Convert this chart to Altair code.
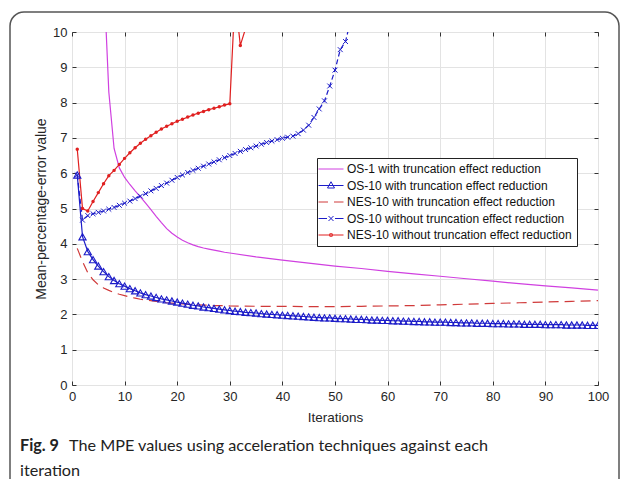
import altair as alt
import pandas as pd

SERIES = [
    "OS-1 with truncation effect reduction",
    "OS-10 with truncation effect reduction",
    "NES-10 with truncation effect reduction",
    "OS-10 without truncation effect reduction",
    "NES-10 without truncation effect reduction",
]
COLORS = ["#d040e0", "#1c1cc8", "#d03a3a", "#1c1cc8", "#e02020"]

# OS-1 with truncation effect reduction (no markers)
os1_iter = list(range(1, 31)) + list(range(35, 101, 5))
os1_vals = [60, 35, 24, 18, 14.5, 11.7, 8.3, 6.7, 6.15, 5.88,
            5.68, 5.5, 5.33, 5.15, 4.97, 4.78, 4.6, 4.43, 4.3, 4.19,
            4.1, 4.03, 3.97, 3.92, 3.88, 3.85, 3.82, 3.79, 3.76, 3.74,
            3.63, 3.54, 3.45, 3.37, 3.30, 3.22, 3.15, 3.08, 3.01, 2.94,
            2.87, 2.81, 2.75, 2.69]

# OS-10 with truncation effect reduction (triangles, iterations 1..100)
os10_iter = list(range(1, 101))
os10_vals = [5.95, 4.2, 3.78, 3.55, 3.37, 3.21, 3.07, 2.96, 2.87, 2.8,
             2.73, 2.67, 2.61, 2.56, 2.52, 2.48, 2.44, 2.41, 2.38, 2.35,
             2.32, 2.29, 2.26, 2.24, 2.21, 2.19, 2.17, 2.15, 2.13, 2.11,
             2.09, 2.08, 2.06, 2.05, 2.04, 2.02, 2.01, 2.0, 1.99, 1.98,
             1.97, 1.96, 1.95, 1.94, 1.93, 1.92, 1.91, 1.9, 1.9, 1.89,
             1.88, 1.88, 1.87, 1.86, 1.86, 1.85, 1.84, 1.84, 1.83, 1.83,
             1.82, 1.82, 1.81, 1.81, 1.8, 1.8, 1.79, 1.79, 1.78, 1.78,
             1.78, 1.77, 1.77, 1.76, 1.76, 1.76, 1.75, 1.75, 1.75, 1.74,
             1.74, 1.74, 1.73, 1.73, 1.73, 1.72, 1.72, 1.72, 1.72, 1.71,
             1.71, 1.71, 1.71, 1.7, 1.7, 1.7, 1.7, 1.69, 1.69, 1.69]

# NES-10 with truncation effect reduction (dashed, no markers)
nes10_iter = list(range(1, 31)) + list(range(35, 101, 5))
nes10_vals = [3.87, 3.5, 3.18, 2.98, 2.84, 2.75, 2.68, 2.62, 2.57, 2.53,
              2.49, 2.46, 2.43, 2.41, 2.39, 2.37, 2.35, 2.33, 2.32, 2.31,
              2.3, 2.29, 2.28, 2.27, 2.26, 2.26, 2.25, 2.25, 2.25, 2.24,
              2.23, 2.23, 2.22, 2.22, 2.23, 2.24, 2.25, 2.27, 2.29, 2.31,
              2.33, 2.35, 2.37, 2.39]

# OS-10 without truncation effect reduction (x markers)
os10wo_iter = list(range(1, 57))
os10wo_vals = [5.95, 4.67, 4.8, 4.85, 4.89, 4.93, 4.98, 5.03, 5.09, 5.15,
               5.21, 5.28, 5.35, 5.42, 5.5, 5.57, 5.65, 5.72, 5.8, 5.88,
               5.95, 6.02, 6.08, 6.14, 6.2, 6.26, 6.32, 6.38, 6.44, 6.5,
               6.56, 6.62, 6.67, 6.72, 6.77, 6.82, 6.87, 6.91, 6.95, 6.99,
               7.02, 7.05, 7.12, 7.22, 7.36, 7.58, 7.82, 8.05, 8.47, 8.92,
               9.5, 9.73, 10.35, 11.0, 11.8, 12.6]

# NES-10 without truncation effect reduction (dot markers)
nes10wo_iter = list(range(1, 36))
nes10wo_vals = [6.68, 5.0, 4.93, 5.2, 5.45, 5.7, 5.93, 6.08, 6.25, 6.42,
                6.58, 6.72, 6.85, 6.96, 7.06, 7.16, 7.25, 7.33, 7.4, 7.47,
                7.53, 7.59, 7.65, 7.7, 7.75, 7.8, 7.84, 7.88, 7.93, 7.97,
                11.0, 9.62, 10.1, 10.8, 11.5]

X_TICKS = list(range(0, 101, 10))
Y_TICKS = list(range(0, 11))

CAPTION_BOLD = "Fig. 9"
CAPTION_LINE1 = "The MPE values using acceleration techniques against each"
CAPTION_LINE2 = "iteration"

rows = []
for name, its, vals in [
    (SERIES[0], os1_iter, os1_vals),
    (SERIES[1], os10_iter, os10_vals),
    (SERIES[2], nes10_iter, nes10_vals),
    (SERIES[3], os10wo_iter, os10wo_vals),
    (SERIES[4], nes10wo_iter, nes10wo_vals),
]:
    for i, v in zip(its, vals):
        rows.append({"series": name, "iteration": i, "value": v})
df = pd.DataFrame(rows)

FONT = "Liberation Sans"
TXT = "#262626"

xs = alt.Scale(domain=[0, 100], nice=False, zero=False)
ys = alt.Scale(domain=[0, 10], nice=False)

x_axis = alt.Axis(title="Iterations", values=X_TICKS, offset=-4, tickSize=4,
                  tickColor="#333", domain=False, grid=True, gridColor="#e3e3e3",
                  labelFont=FONT, labelFontSize=13, labelColor=TXT, labelPadding=5,
                  labelFlush=False, titleFont=FONT, titleFontSize=13.5,
                  titleFontWeight="normal", titleColor=TXT, titlePadding=7)
y_axis = alt.Axis(title="Mean-percentage-error value", values=Y_TICKS, offset=-4,
                  tickSize=4, tickColor="#333", domain=False, grid=True,
                  gridColor="#e3e3e3", labelFont=FONT, labelFontSize=13,
                  labelColor=TXT, labelPadding=5, labelFlush=False,
                  titleFont=FONT, titleFontSize=14, titleFontWeight="normal",
                  titleColor=TXT, titlePadding=4)

x_enc = alt.X("iteration:Q", scale=xs, axis=x_axis)
y_enc = alt.Y("value:Q", scale=ys, axis=y_axis)

base = alt.Chart(df)


def line_layer(name, color, dash=None):
    kw = dict(color=color, strokeWidth=1.2, clip=True)
    if dash:
        kw["strokeDash"] = dash
    return base.transform_filter(alt.datum.series == name).mark_line(**kw).encode(
        x=x_enc, y=y_enc)


lines = [
    line_layer(SERIES[0], COLORS[0]),
    line_layer(SERIES[2], COLORS[2], [10, 6]),
    line_layer(SERIES[1], COLORS[1]),
    line_layer(SERIES[3], COLORS[3], [5, 3]),
    line_layer(SERIES[4], COLORS[4]),
]

tri = base.transform_filter(alt.datum.series == SERIES[1]).mark_point(
    shape="triangle-up", filled=False, size=52, color=COLORS[1], strokeWidth=1.1,
    clip=True, opacity=1).encode(x=x_enc, y=y_enc)
xmk = base.transform_filter(alt.datum.series == SERIES[3]).mark_point(
    shape="M-1,-1L1,1M-1,1L1,-1", filled=False, size=24, color=COLORS[3],
    strokeWidth=1, clip=True, opacity=1).encode(x=x_enc, y=y_enc)
dot = base.transform_filter(alt.datum.series == SERIES[4]).mark_point(
    shape="circle", filled=True, size=12, color=COLORS[4], clip=True,
    opacity=1).encode(x=x_enc, y=y_enc)

PATHS = [
    "M-2.5,0L2.5,0",
    "M-2.5,0L2.5,0M0,-0.75L0.7,0.5L-0.7,0.5Z",
    "M-2.5,0L-0.6,0M0.6,0L2.5,0",
    "M-2.5,0L-0.8,0M0.8,0L2.5,0M-0.5,-0.5L0.5,0.5M-0.5,0.5L0.5,-0.5",
    "M-2.5,0L2.5,0M-0.25,-0.25L0.25,-0.25L0.25,0.25L-0.25,0.25Z",
]

leg = alt.Legend(title=None, orient="none", legendX=245, legendY=126,
                 fillColor="white", strokeColor="#222", padding=5,
                 labelFont=FONT, labelFontSize=12, labelColor="#111",
                 labelLimit=400, symbolSize=100, symbolStrokeWidth=1,
                 symbolOffset=3, labelOffset=10, rowPadding=4.5)

legend_df = pd.DataFrame({"series": SERIES, "iteration": [50] * 5,
                          "value": [-5] * 5})
legend_layer = alt.Chart(legend_df).mark_point(
    filled=False, clip=True, strokeWidth=1, opacity=1).encode(
    x=x_enc, y=y_enc,
    color=alt.Color("series:N", scale=alt.Scale(domain=SERIES, range=COLORS),
                    legend=leg),
    shape=alt.Shape("series:N", scale=alt.Scale(domain=SERIES, range=PATHS),
                    legend=leg),
)

main = alt.layer(*lines, tri, xmk, dot, legend_layer)

box = alt.Chart(legend_df).mark_point(opacity=0).encode(
    x=alt.X("iteration:Q", scale=xs,
            axis=alt.Axis(orient="top", labels=False, title=None, grid=False,
                          domain=False, tickSize=4, offset=-4, values=X_TICKS,
                          tickColor="#333")),
    y=alt.Y("value:Q", scale=ys,
            axis=alt.Axis(orient="right", labels=False, title=None, grid=False,
                          domain=False, tickSize=4, offset=-4, values=Y_TICKS,
                          tickColor="#333")),
)

one = pd.DataFrame({"t": [CAPTION_BOLD]})
border = alt.Chart(one).mark_rect(
    fillOpacity=0, stroke="#555", strokeWidth=1.5, cornerRadius=14).encode(
    x=alt.value(-62), x2=alt.value(547), y=alt.value(-20), y2=alt.value(480))

CAP_FONT = "Lato"
CAP_SIZE = 16.2
cap1 = alt.Chart(pd.DataFrame({"t": [CAPTION_BOLD]})).mark_text(
    align="left", baseline="alphabetic", font=CAP_FONT, fontSize=CAP_SIZE,
    fontWeight="bold", color="#222").encode(
    text="t:N", x=alt.value(-52), y=alt.value(418.7))
cap2 = alt.Chart(pd.DataFrame({"t": [CAPTION_LINE1]})).mark_text(
    align="left", baseline="alphabetic", font=CAP_FONT, fontSize=CAP_SIZE,
    color="#222").encode(text="t:N", x=alt.value(-3), y=alt.value(418.7))
cap3 = alt.Chart(pd.DataFrame({"t": [CAPTION_LINE2]})).mark_text(
    align="left", baseline="alphabetic", font=CAP_FONT, fontSize=CAP_SIZE,
    color="#222").encode(text="t:N", x=alt.value(-52), y=alt.value(444))

chart = alt.layer(main, box, border, cap1, cap2, cap3).resolve_axis(
    x="independent", y="independent"
).properties(
    width=526, height=353,
    padding={"left": 64, "top": 24, "right": 23, "bottom": 94},
    autosize=alt.AutoSizeParams(type="none"),
).configure_view(stroke="#333", strokeWidth=1)

chart.save("out.html", embed_options={"renderer": "svg", "actions": False})
